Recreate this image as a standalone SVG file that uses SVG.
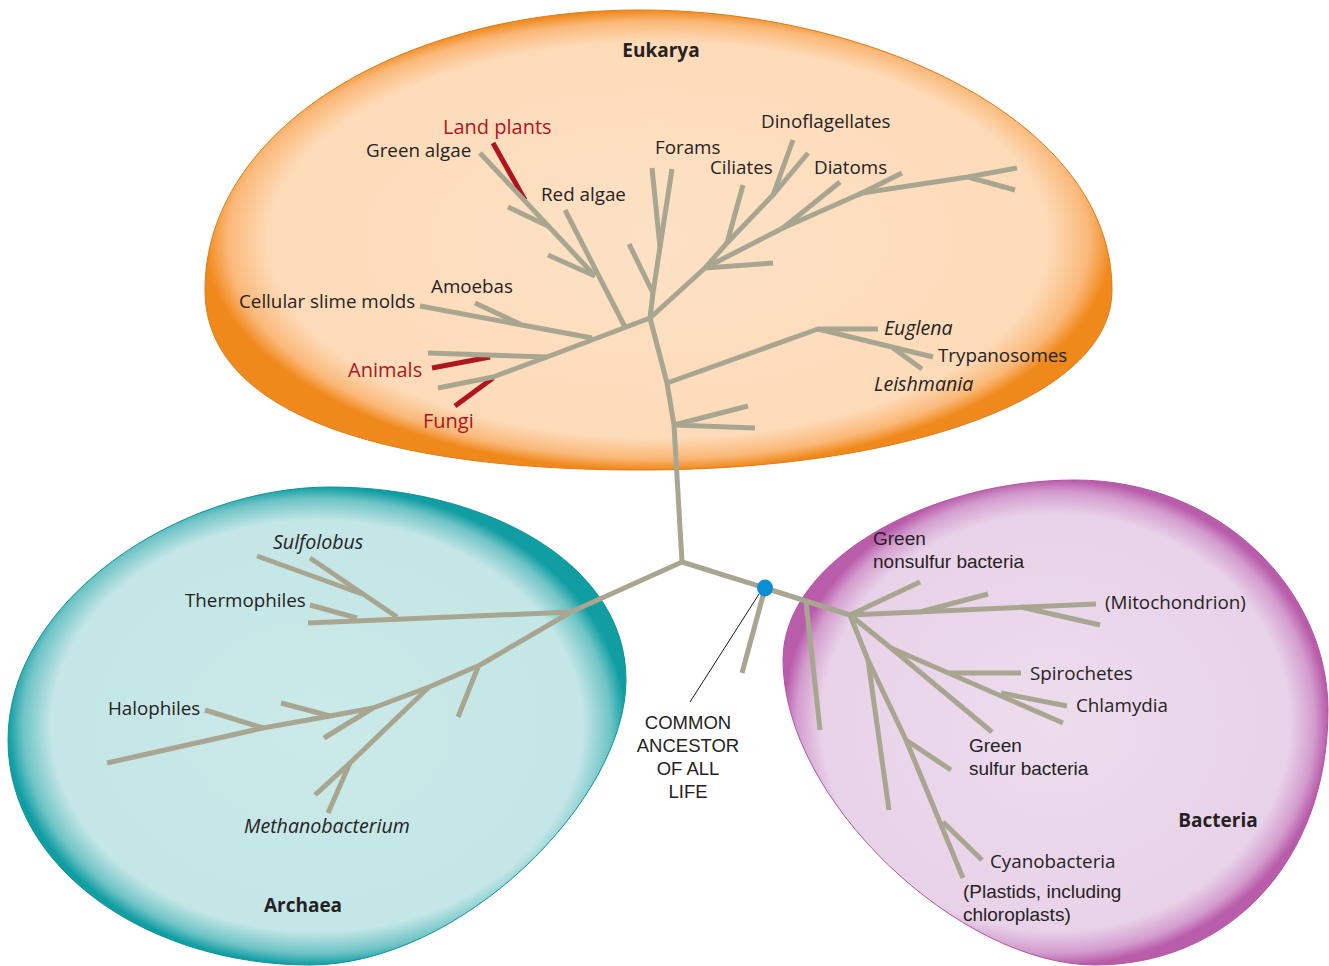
<svg xmlns="http://www.w3.org/2000/svg" width="1329" height="966" viewBox="0 0 1329 966">
<defs>
<radialGradient id="gEuk" cx="50%" cy="50%" r="50%">
<stop offset="0" stop-color="#fde1c5"/>
<stop offset="0.86" stop-color="#fddbb9"/>
<stop offset="0.95" stop-color="#fab878"/>
<stop offset="1" stop-color="#f0891c"/>
</radialGradient>
<radialGradient id="gArc" cx="50%" cy="50%" r="50%">
<stop offset="0" stop-color="#cbe9e9"/>
<stop offset="0.86" stop-color="#c4e6e6"/>
<stop offset="0.95" stop-color="#6fc4c6"/>
<stop offset="1" stop-color="#119ea3"/>
</radialGradient>
<radialGradient id="gBac" cx="50%" cy="50%" r="50%">
<stop offset="0" stop-color="#eddcee"/>
<stop offset="0.86" stop-color="#e8d2e8"/>
<stop offset="0.95" stop-color="#d39cce"/>
<stop offset="1" stop-color="#b95dab"/>
</radialGradient>
<style>
text{font-family:"Open Sans","Noto Sans","Liberation Sans",sans-serif;font-size:18.8px;fill:#262223}
.it{font-style:italic;font-size:19.6px}
.b{font-weight:bold;font-size:19px}
.red{fill:#b0141e;font-size:20px}
.c{text-anchor:middle}
.anc{font-family:"Liberation Sans",Arial,sans-serif;font-size:18.5px}
.ml{font-family:"Liberation Sans",Arial,sans-serif;font-size:19px}
.br{fill:none;stroke:#a8a690;stroke-width:5;stroke-linejoin:round;stroke-linecap:butt}
.rd{fill:none;stroke:#b0141e;stroke-width:5;stroke-linecap:butt}
</style>
</defs>

<g id="eukarya">
<path d="M640,10 C870,10 1112,120 1112,290 C1112,400 900,470 640,470 C400,470 205,420 205,290 C205,130 400,10 640,10 Z" fill="url(#gEuk)" stroke="#e07a16" stroke-width="1"/>
<text class="b c" x="661" y="57">Eukarya</text>
</g>
<g id="archaea">
<path d="M330,487 C480,487 626,560 626,680 C626,800 460,965 310,965 C150,965 8,870 8,740 C8,600 180,487 330,487 Z" fill="url(#gArc)" stroke="#0f9499" stroke-width="1"/>
<text class="b c" x="303" y="912">Archaea</text>
</g>
<g id="bacteria">
<path d="M1075,480 C1220,480 1328,590 1328,710 C1328,860 1230,965 1095,965 C960,965 783,800 783,660 C783,560 930,480 1075,480 Z" fill="url(#gBac)" stroke="#b155a3" stroke-width="1"/>
<text class="b c" x="1218" y="827">Bacteria</text>
</g>

<g id="connectors">
<!-- Eukarya -->
<polyline class="br" points="682,562 674,425 667,383 650,318"/>
<line class="br" x1="674" y1="425" x2="748" y2="406"/>
<line class="br" x1="674" y1="425" x2="755" y2="428"/>
<polyline class="br" points="667,383 818,329 878,329"/>
<line class="br" x1="818" y1="329" x2="933" y2="357"/>
<line class="br" x1="893" y1="348" x2="922" y2="369"/>
<polyline class="br" points="650,318 653,293 660,247 652,168"/>
<line class="br" x1="660" y1="247" x2="672" y2="169"/>
<line class="br" x1="653" y1="293" x2="629" y2="244"/>
<polyline class="br" points="650,318 705,268 727,243 773,195 793,140"/>
<line class="br" x1="773" y1="195" x2="808" y2="153"/>
<line class="br" x1="727" y1="243" x2="743" y2="185"/>
<line class="br" x1="705" y1="268" x2="773" y2="263"/>
<polyline class="br" points="705,268 783,228 862,193 968,177 1017,168"/>
<line class="br" x1="968" y1="177" x2="1015" y2="190"/>
<line class="br" x1="783" y1="228" x2="840" y2="182"/>
<line class="br" x1="858" y1="195" x2="902" y2="173"/>
<line class="br" x1="650" y1="318" x2="547" y2="357"/>
<line class="br" x1="625" y1="327" x2="565" y2="210"/>
<line class="rd" x1="525" y1="200" x2="493" y2="143"/>
<line class="br" x1="595" y1="276" x2="480" y2="153"/>
<line class="br" x1="595" y1="276" x2="548" y2="255"/>
<line class="br" x1="550" y1="227" x2="508" y2="207"/>
<line class="br" x1="592" y1="338" x2="420" y2="306"/>
<line class="br" x1="520" y1="324" x2="475" y2="303"/>
<line class="rd" x1="490" y1="357" x2="432" y2="368"/>
<line class="br" x1="547" y1="357" x2="428" y2="353"/>
<line class="rd" x1="493" y1="378" x2="455" y2="406"/>
<polyline class="br" points="547,357 493,377 438,388"/>
<!-- Archaea -->
<line class="br" x1="682" y1="562" x2="571" y2="612"/>
<line class="br" x1="571" y1="612" x2="308" y2="623"/>
<line class="br" x1="397" y1="617" x2="310" y2="558"/>
<line class="br" x1="362" y1="594" x2="257" y2="556"/>
<line class="br" x1="357" y1="618" x2="310" y2="605"/>
<polyline class="br" points="571,612 480,665 429,687 373,708 330,716 263,728 107,763"/>
<line class="br" x1="478" y1="667" x2="458" y2="717"/>
<polyline class="br" points="429,687 350,763 328,813"/>
<line class="br" x1="350" y1="763" x2="315" y2="795"/>
<line class="br" x1="373" y1="708" x2="324" y2="738"/>
<line class="br" x1="330" y1="716" x2="281" y2="703"/>
<line class="br" x1="263" y1="728" x2="205" y2="710"/>
<!-- Bacteria -->
<polyline class="br" points="682,562 765,588 850,615"/>
<line class="br" x1="764" y1="592" x2="742" y2="673"/>
<line class="br" x1="806" y1="602" x2="820" y2="730"/>
<line class="br" x1="850" y1="615" x2="920" y2="582"/>
<line class="br" x1="850" y1="615" x2="1096" y2="604"/>
<line class="br" x1="920" y1="612" x2="988" y2="594"/>
<line class="br" x1="1021" y1="607" x2="1100" y2="625"/>
<polyline class="br" points="850,615 891,648 1063,723"/>
<line class="br" x1="891" y1="648" x2="992" y2="732"/>
<line class="br" x1="949" y1="673" x2="1021" y2="673"/>
<line class="br" x1="1001" y1="693" x2="1067" y2="706"/>
<polyline class="br" points="850,615 868,660 889,810"/>
<polyline class="br" points="868,660 906,740 963,878"/>
<line class="br" x1="906" y1="740" x2="951" y2="770"/>
<line class="br" x1="943" y1="822" x2="982" y2="860"/>
<line x1="759" y1="594" x2="690" y2="702" stroke="#1a1a1a" stroke-width="1"/>
</g>

<g id="ancestor">
<ellipse cx="765" cy="588" rx="8" ry="8.5" fill="#0b8fd2"/>
<text class="c anc" x="688" y="729">COMMON<tspan x="688" dy="23">ANCESTOR</tspan><tspan x="688" dy="23">OF ALL</tspan><tspan x="688" dy="23">LIFE</tspan></text>
</g>

<g id="land-plants"><text class="red" x="443" y="134">Land plants</text></g>
<g id="green-algae"><text x="366" y="157">Green algae</text></g>
<g id="red-algae"><text x="541" y="201">Red algae</text></g>
<g id="forams"><text x="655" y="154">Forams</text></g>
<g id="dinoflagellates"><text x="761" y="128">Dinoflagellates</text></g>
<g id="ciliates"><text x="710" y="174">Ciliates</text></g>
<g id="diatoms"><text x="814" y="174">Diatoms</text></g>
<g id="amoebas"><text x="431" y="293">Amoebas</text></g>
<g id="slime-molds"><text x="239" y="308">Cellular slime molds</text></g>
<g id="euglena"><text class="it" x="884" y="335">Euglena</text></g>
<g id="trypanosomes"><text x="938" y="362">Trypanosomes</text></g>
<g id="leishmania"><text class="it" x="874" y="391">Leishmania</text></g>
<g id="animals"><text class="red" x="348" y="377">Animals</text></g>
<g id="fungi"><text class="red" x="423" y="428">Fungi</text></g>

<g id="sulfolobus"><text class="it" x="273" y="549">Sulfolobus</text></g>
<g id="thermophiles"><text x="185" y="607">Thermophiles</text></g>
<g id="halophiles"><text x="108" y="715">Halophiles</text></g>
<g id="methanobacterium"><text class="it" x="244" y="833">Methanobacterium</text></g>

<g id="green-nonsulfur"><text class="ml" x="873" y="545">Green<tspan x="873" dy="23">nonsulfur bacteria</tspan></text></g>
<g id="mitochondrion"><text x="1105" y="609">(Mitochondrion)</text></g>
<g id="spirochetes"><text x="1030" y="680">Spirochetes</text></g>
<g id="chlamydia"><text x="1076" y="712">Chlamydia</text></g>
<g id="green-sulfur"><text class="ml" x="969" y="752">Green<tspan x="969" dy="23">sulfur bacteria</tspan></text></g>
<g id="cyanobacteria"><text x="990" y="868">Cyanobacteria</text><text class="ml" x="963" y="898">(Plastids, including<tspan x="963" dy="23">chloroplasts)</tspan></text></g>
</svg>
